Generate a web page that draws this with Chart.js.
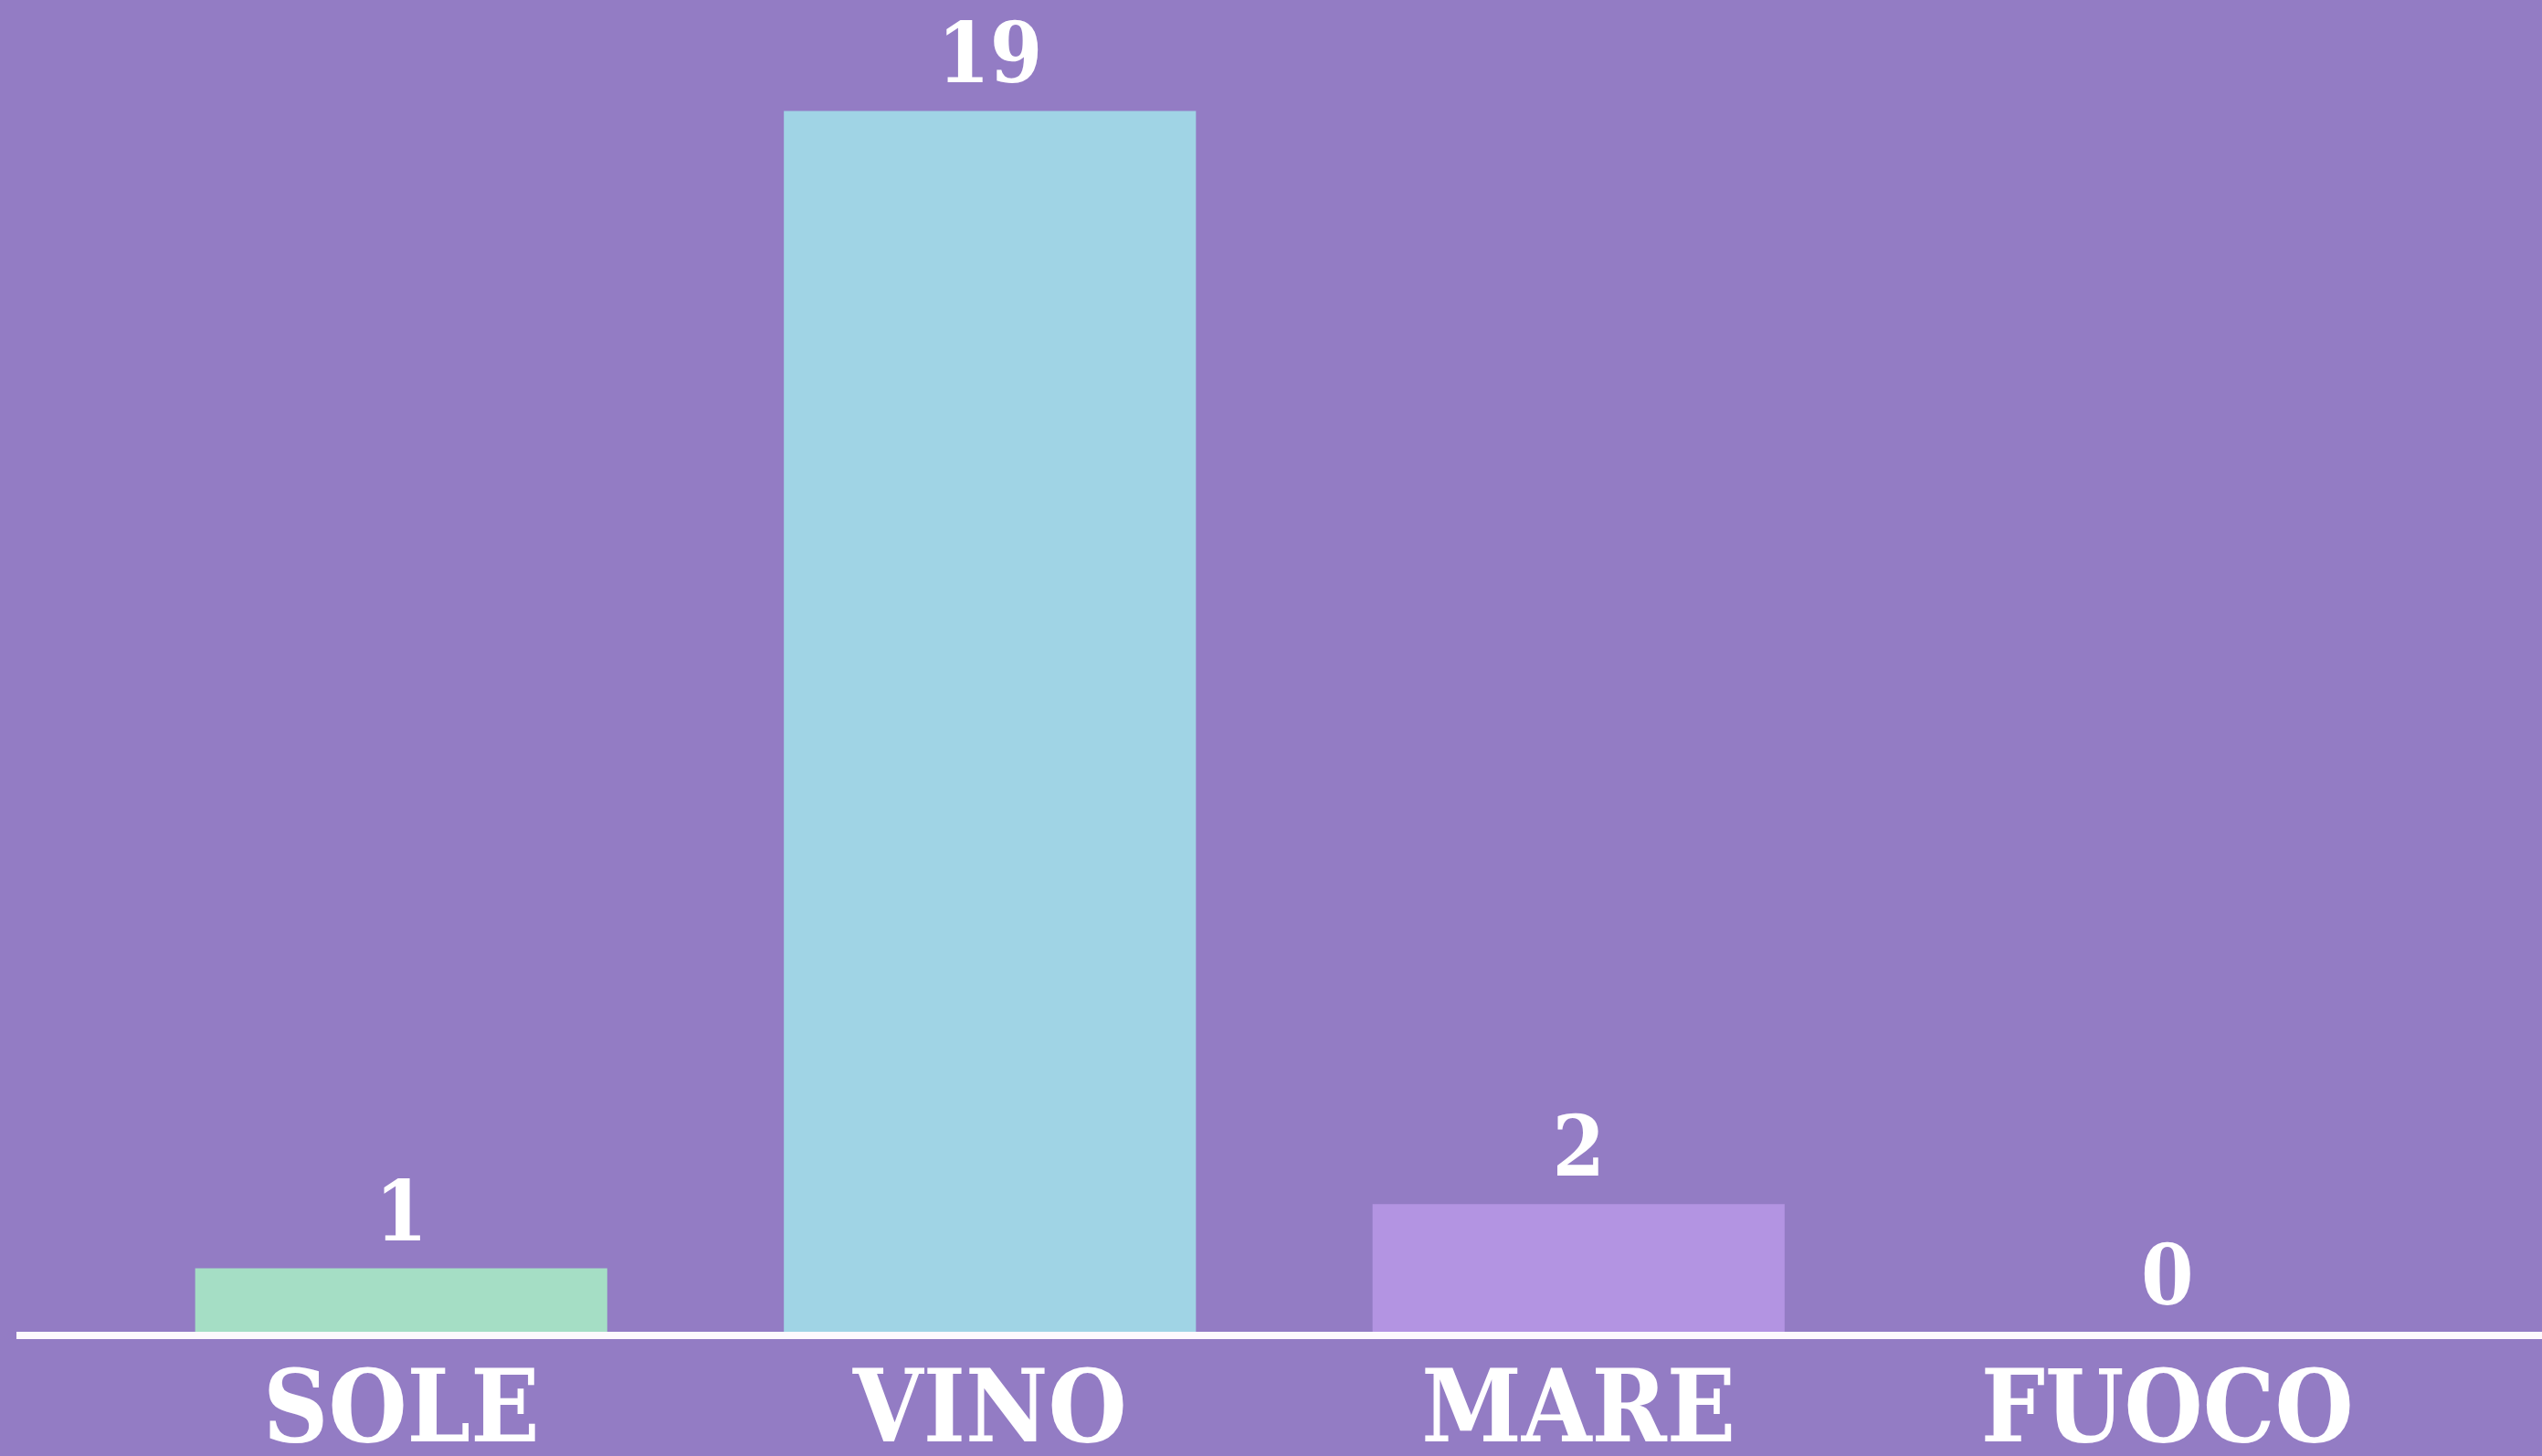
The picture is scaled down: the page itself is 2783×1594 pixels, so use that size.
<!DOCTYPE html>
<html>
<head>
<meta charset="utf-8">
<title>SOLE VINO MARE FUOCO</title>
<script src="https://cdn.jsdelivr.net/npm/chart.js@4.4.1/dist/chart.umd.min.js"></script>
<style>
    html, body { margin: 0; padding: 0; background: #937cc4; overflow: hidden; }
    #chart { display: block; }
</style>
</head>
<body>
<canvas id="chart" width="2783" height="1594"></canvas>
<script>
// Dati del grafico
const categories = ['SOLE', 'VINO', 'MARE', 'FUOCO'];
const votes = [1, 19, 2, 0];
const barColors = ['#a5dec5', '#a0d4e5', '#b394e2', '#f0a0a0'];

const FONT = "'DejaVu Serif Condensed', 'DejaVu Serif', 'Liberation Serif', serif";

// Etichette con il valore sopra ogni barra
const valueLabels = {
    id: 'valueLabels',
    afterDatasetsDraw(chart) {
        const ctx = chart.ctx;
        const meta = chart.getDatasetMeta(0);
        ctx.save();
        ctx.fillStyle = '#ffffff';
        ctx.font = "bold 92px " + FONT;
        ctx.textAlign = 'center';
        ctx.textBaseline = 'alphabetic';
        meta.data.forEach((bar, i) => {
            ctx.fillText(String(votes[i]), bar.x, bar.y - 31);
        });
        ctx.restore();
    }
};

// Linea di base bianca (più larga dell'area del grafico)
const baseLine = {
    id: 'baseLine',
    afterDatasetsDraw(chart) {
        const ctx = chart.ctx;
        const y = chart.scales.y.getPixelForValue(0) + 3;
        ctx.save();
        ctx.strokeStyle = '#fdf9fd';
        ctx.lineWidth = 8;
        ctx.beginPath();
        ctx.moveTo(18, y);
        ctx.lineTo(chart.width, y);
        ctx.stroke();
        ctx.restore();
    }
};

new Chart(document.getElementById('chart').getContext('2d'), {
    type: 'bar',
    data: {
        labels: categories,
        datasets: [{
            data: votes,
            backgroundColor: barColors,
            borderWidth: 0,
            barPercentage: 0.7,
            categoryPercentage: 1.0
        }]
    },
    options: {
        responsive: false,
        animation: false,
        layout: { padding: { left: 117, right: 88, top: 51, bottom: 0 } },
        plugins: {
            legend: { display: false },
            tooltip: { enabled: false }
        },
        scales: {
            x: {
                grid: { display: false, drawTicks: false },
                border: { display: false },
                ticks: {
                    color: '#ffffff',
                    padding: 24,
                    font: { family: FONT, size: 110, weight: 'bold' }
                },
                afterFit(scale) { scale.height = 135; }
            },
            y: {
                display: false,
                min: 0,
                max: 20
            }
        }
    },
    plugins: [valueLabels, baseLine]
});
</script>
</body>
</html>
